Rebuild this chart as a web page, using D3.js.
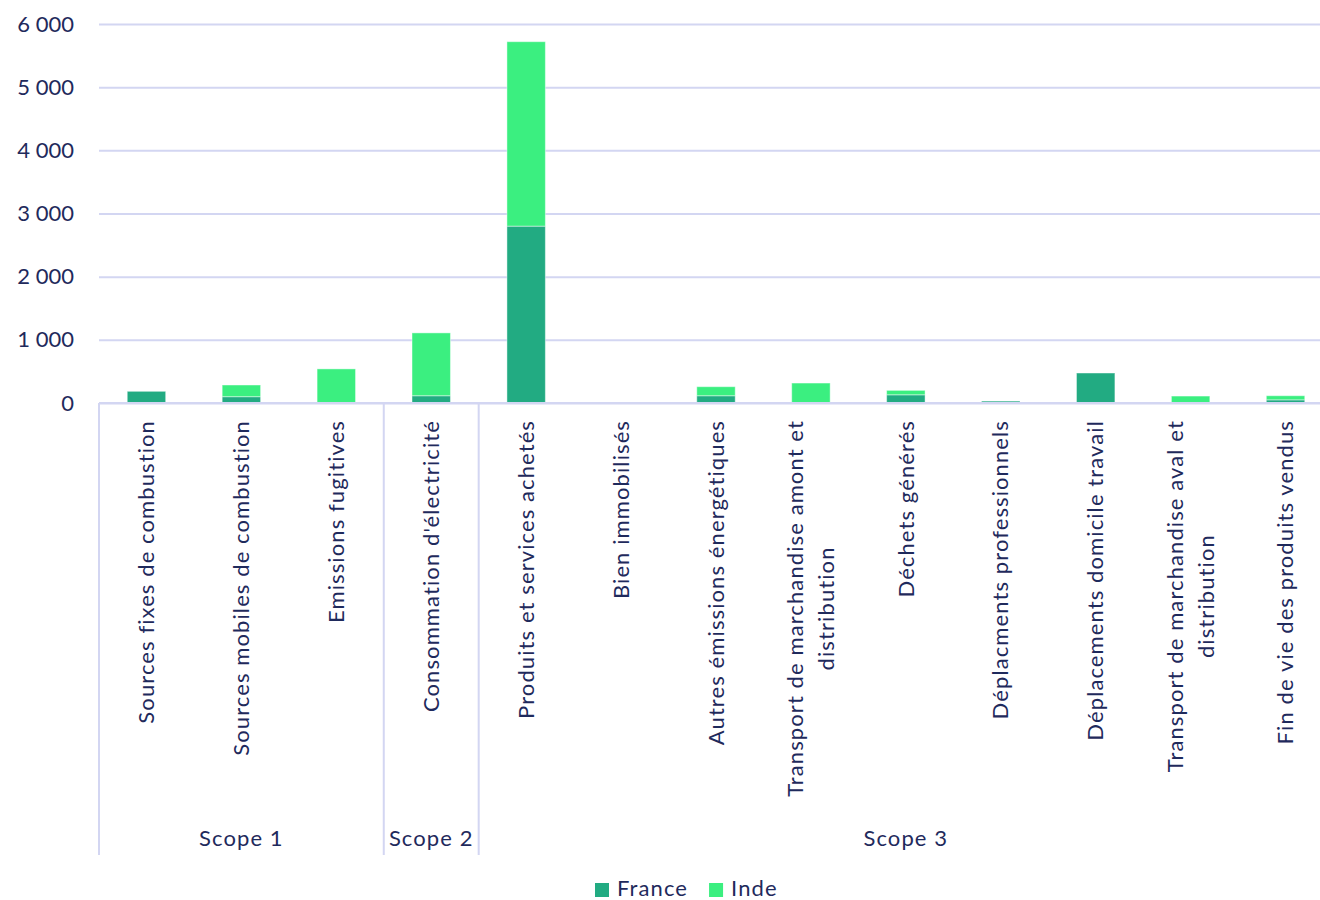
<!DOCTYPE html>
<html>
<head>
<meta charset="utf-8">
<script src="https://cdn.jsdelivr.net/npm/d3@7"></script>
<style>
  html, body { margin: 0; padding: 0; background: #ffffff; }
  svg { display: block; font-family: Lato, "Noto Sans", sans-serif; }
</style>
</head>
<body>
<svg id="chart" width="1320" height="900"></svg>
<script>
// ---- data ----
const categories = [
  "Sources fixes de combustion",
  "Sources mobiles de combustion",
  "Emissions fugitives",
  "Consommation d'électricité",
  "Produits et services achetés",
  "Bien immobilisés",
  "Autres émissions énergétiques",
  "Transport de marchandise amont et\ndistribution",
  "Déchets générés",
  "Déplacments professionnels",
  "Déplacements domicile travail",
  "Transport de marchandise aval et\ndistribution",
  "Fin de vie des produits vendus"
];
const scopes = ["Scope 1", "Scope 1", "Scope 1", "Scope 2", "Scope 3", "Scope 3", "Scope 3",
                "Scope 3", "Scope 3", "Scope 3", "Scope 3", "Scope 3", "Scope 3"];
const seriesNames = ["France", "Inde"];
const france = [185, 100, 0, 115, 2800, 0, 115, 0, 130, 30, 475, 0, 50];
const inde   = [0, 185, 540, 995, 2920, 0, 143, 316, 70, 0, 0, 110, 65];
const yTicks = [0, 1000, 2000, 3000, 4000, 5000, 6000];

// ---- styles ----
const colors = { France: "#22ab82", Inde: "#3bef80" };
const textColor = "#1f2a5c";
const gridColor = "#d3d6f2";
const fontSize = 22;
const letterSp = "1.1px";

const margin = { left: 99, right: 1333, top: 24, bottom: 403 };
const svg = d3.select("#chart");
svg.append("rect").attr("width", 1320).attr("height", 900).attr("fill", "#fff");

const x = d3.scaleBand().domain(d3.range(categories.length))
  .range([margin.left, margin.right]).paddingInner(0.595).paddingOuter(0.2975);
const y = d3.scaleLinear().domain([0, 6000]).range([margin.bottom, margin.top]);
const step = x.step();
const xLeft = margin.left;

const locale = d3.formatLocale({ decimal: ",", thousands: "\u00a0", grouping: [3], currency: ["", " €"] });
const fmt = locale.format(",");

// gridlines
const yAxis = d3.axisLeft(y).tickValues(yTicks).tickFormat(fmt).tickSize(-(margin.right - margin.left)).tickPadding(25);
const gy = svg.append("g").attr("transform", `translate(${margin.left},0)`).call(yAxis);
gy.select(".domain").remove();
gy.selectAll(".tick line").attr("stroke", gridColor).attr("stroke-width", 2);
gy.selectAll(".tick text").attr("fill", textColor).style("font-size", fontSize + "px")
  .attr("font-family", "Lato, 'Noto Sans', sans-serif");

// stacked bars
const rows = categories.map((c, i) => ({ i, France: france[i], Inde: inde[i] }));
const stack = d3.stack().keys(seriesNames)(rows);
svg.append("g").selectAll("g").data(stack).join("g")
  .attr("fill", d => colors[d.key])
  .selectAll("rect").data(d => d.filter(p => p[1] - p[0] > 0)).join("rect")
  .attr("x", d => x(d.data.i))
  .attr("width", x.bandwidth())
  .attr("y", d => y(d[1]))
  .attr("height", d => y(d[0]) - y(d[1]))
  .attr("stroke", "#ffffff").attr("stroke-opacity", 0.45).attr("stroke-width", 1);

// baseline
svg.append("line").attr("x1", margin.left).attr("x2", margin.right)
  .attr("y1", y(0)).attr("y2", y(0)).attr("stroke", gridColor).attr("stroke-width", 2);

// category labels (rotated)
const labelTop = 420;
const lineH = 31.5;
categories.forEach((c, i) => {
  const lines = c.split("\n");
  const cx = x(i) + x.bandwidth() / 2;
  const g = svg.append("g").attr("transform", `translate(${cx},${labelTop}) rotate(-90)`);
  const texts = lines.map((ln, k) => g.append("text")
    .attr("y", (k - (lines.length - 1) / 2) * lineH)
    .attr("dy", "0.35em")
    .attr("fill", textColor)
    .style("font-size", fontSize + "px")
    .style("letter-spacing", letterSp)
    .text(ln));
  if (lines.length === 1) {
    texts[0].attr("text-anchor", "end").attr("x", 0);
  } else {
    const maxLen = d3.max(texts, t => t.node().getComputedTextLength());
    texts.forEach(t => t.attr("text-anchor", "middle").attr("x", -maxLen / 2));
  }
});

// scope groups
const groups = [];
scopes.forEach((s, i) => {
  if (!groups.length || groups[groups.length - 1].name !== s) groups.push({ name: s, start: i, end: i });
  else groups[groups.length - 1].end = i;
});
const sepBottom = 855;
groups.forEach((gp, gi) => {
  const x0 = xLeft + gp.start * step;
  const x1 = xLeft + (gp.end + 1) * step;
  svg.append("line").attr("x1", x0).attr("x2", x0).attr("y1", y(0)).attr("y2", sepBottom)
    .attr("stroke", gridColor).attr("stroke-width", 2);
  svg.append("text").attr("x", (x0 + x1) / 2).attr("y", 838).attr("dy", "0.35em")
    .attr("text-anchor", "middle").attr("fill", textColor).style("font-size", fontSize + "px")
    .style("letter-spacing", letterSp)
    .text(gp.name);
});

// legend
const legend = svg.append("g").attr("transform", "translate(595,888)");
let lx = 0;
seriesNames.forEach(name => {
  legend.append("rect").attr("x", lx).attr("y", -5).attr("width", 14).attr("height", 14).attr("fill", colors[name]);
  const t = legend.append("text").attr("x", lx + 22).attr("y", 0).attr("dy", "0.35em")
    .attr("fill", textColor).style("font-size", fontSize + "px").style("letter-spacing", letterSp).text(name);
  lx += 22 + t.node().getComputedTextLength() + 21;
});
</script>
</body>
</html>
